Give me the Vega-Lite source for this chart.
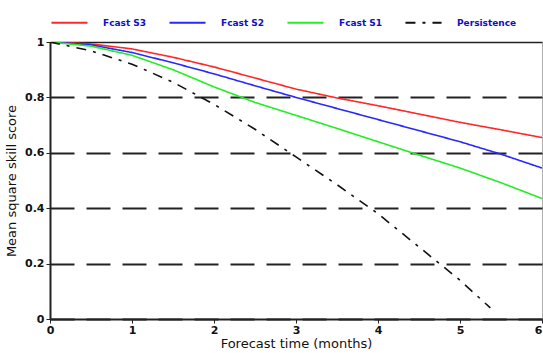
{
  "$schema": "https://vega.github.io/schema/vega-lite/v6.json",
  "width": 492,
  "height": 277,
  "autosize": {"type": "none"},
  "padding": {"left": 50, "top": 42, "right": 1, "bottom": 34},
  "background": "white",
  "config": {
    "view": {"stroke": "#b0b0b0", "strokeWidth": 1},
    "font": "DejaVu Sans"
  },
  "data": {
    "values": [
      {"t": 0, "v": 1, "s": "Fcast S3"},
      {"t": 0.5, "v": 0.993, "s": "Fcast S3"},
      {"t": 1, "v": 0.975, "s": "Fcast S3"},
      {"t": 1.5, "v": 0.945, "s": "Fcast S3"},
      {"t": 2, "v": 0.91, "s": "Fcast S3"},
      {"t": 2.5, "v": 0.87, "s": "Fcast S3"},
      {"t": 3, "v": 0.83, "s": "Fcast S3"},
      {"t": 3.5, "v": 0.798, "s": "Fcast S3"},
      {"t": 4, "v": 0.77, "s": "Fcast S3"},
      {"t": 4.5, "v": 0.74, "s": "Fcast S3"},
      {"t": 5, "v": 0.71, "s": "Fcast S3"},
      {"t": 5.5, "v": 0.683, "s": "Fcast S3"},
      {"t": 6, "v": 0.655, "s": "Fcast S3"},
      {"t": 0, "v": 1, "s": "Fcast S2"},
      {"t": 0.5, "v": 0.99, "s": "Fcast S2"},
      {"t": 1, "v": 0.962, "s": "Fcast S2"},
      {"t": 1.5, "v": 0.925, "s": "Fcast S2"},
      {"t": 2, "v": 0.885, "s": "Fcast S2"},
      {"t": 2.5, "v": 0.842, "s": "Fcast S2"},
      {"t": 3, "v": 0.8, "s": "Fcast S2"},
      {"t": 3.5, "v": 0.76, "s": "Fcast S2"},
      {"t": 4, "v": 0.72, "s": "Fcast S2"},
      {"t": 4.5, "v": 0.68, "s": "Fcast S2"},
      {"t": 5, "v": 0.64, "s": "Fcast S2"},
      {"t": 5.5, "v": 0.595, "s": "Fcast S2"},
      {"t": 6, "v": 0.545, "s": "Fcast S2"},
      {"t": 0, "v": 1, "s": "Fcast S1"},
      {"t": 0.5, "v": 0.985, "s": "Fcast S1"},
      {"t": 1, "v": 0.952, "s": "Fcast S1"},
      {"t": 1.5, "v": 0.9, "s": "Fcast S1"},
      {"t": 2, "v": 0.838, "s": "Fcast S1"},
      {"t": 2.5, "v": 0.782, "s": "Fcast S1"},
      {"t": 3, "v": 0.735, "s": "Fcast S1"},
      {"t": 3.5, "v": 0.688, "s": "Fcast S1"},
      {"t": 4, "v": 0.64, "s": "Fcast S1"},
      {"t": 4.5, "v": 0.592, "s": "Fcast S1"},
      {"t": 5, "v": 0.545, "s": "Fcast S1"},
      {"t": 5.5, "v": 0.492, "s": "Fcast S1"},
      {"t": 6, "v": 0.435, "s": "Fcast S1"},
      {"t": 0, "v": 1, "s": "Persistence"},
      {"t": 0.5, "v": 0.968, "s": "Persistence"},
      {"t": 1, "v": 0.92, "s": "Persistence"},
      {"t": 1.5, "v": 0.855, "s": "Persistence"},
      {"t": 2, "v": 0.775, "s": "Persistence"},
      {"t": 2.5, "v": 0.685, "s": "Persistence"},
      {"t": 3, "v": 0.585, "s": "Persistence"},
      {"t": 3.5, "v": 0.485, "s": "Persistence"},
      {"t": 4, "v": 0.38, "s": "Persistence"},
      {"t": 4.5, "v": 0.26, "s": "Persistence"},
      {"t": 5, "v": 0.14, "s": "Persistence"},
      {"t": 5.37, "v": 0.04, "s": "Persistence"}
    ]
  },
  "mark": {"type": "line", "strokeWidth": 1.6, "clip": true},
  "encoding": {
    "x": {
      "field": "t",
      "type": "quantitative",
      "scale": {"domain": [0, 6], "nice": false, "zero": true},
      "axis": {
        "values": [0, 1, 2, 3, 4, 5, 6],
        "grid": false,
        "title": "Forecast time (months)",
        "titleFont": "DejaVu Sans",
        "titleFontSize": 13,
        "titleFontWeight": "normal",
        "titleColor": "#111",
        "titlePadding": 2,
        "labelFontSize": 11,
        "labelFontWeight": "bold",
        "labelColor": "#111",
        "labelPadding": 1,
        "labelAlign": {"condition": {"test": "datum.value == 6", "value": "right"}, "value": "center"},
        "tickSize": 4,
        "tickColor": "#222",
        "domainColor": "#222",
        "domainWidth": 2,
        "labelFlush": false
      }
    },
    "y": {
      "field": "v",
      "type": "quantitative",
      "scale": {"domain": [0, 1], "nice": false},
      "axis": {
        "values": [0, 0.2, 0.4, 0.6, 0.8, 1],
        "format": "~g",
        "grid": true,
        "gridColor": "#222",
        "gridWidth": {"condition": {"test": "datum.value == 1", "value": 1.5}, "value": 1.8},
        "gridDash": {"condition": {"test": "datum.value == 1", "value": []}, "value": [24, 12]},
        "gridOpacity": 1,
        "title": "Mean square skill score",
        "titleFont": "DejaVu Sans",
        "titleFontSize": 13,
        "titleFontWeight": "normal",
        "titleColor": "#111",
        "titlePadding": 6,
        "labelFontSize": 11,
        "labelFontWeight": "bold",
        "labelColor": "#111",
        "labelPadding": 2,
        "tickSize": 4,
        "tickColor": "#222",
        "domainColor": "#222",
        "domainWidth": 2
      }
    },
    "color": {
      "field": "s",
      "type": "nominal",
      "scale": {
        "domain": ["Fcast S3", "Fcast S2", "Fcast S1", "Persistence"],
        "range": ["#ff2828", "#2828ff", "#22ee22", "#111111"]
      },
      "legend": {
        "orient": "top",
        "direction": "horizontal",
        "title": null,
        "offset": 14,
        "symbolType": "stroke",
        "symbolSize": 1300,
        "symbolStrokeWidth": 2,
        "labelFontSize": 9,
        "labelFontWeight": "bold",
        "labelColor": "#1010c0",
        "labelOffset": 14,
        "columnPadding": 18,
        "padding": 0
      }
    },
    "strokeDash": {
      "field": "s",
      "type": "nominal",
      "scale": {
        "domain": ["Fcast S3", "Fcast S2", "Fcast S1", "Persistence"],
        "range": [[1, 0], [1, 0], [1, 0], [10, 7, 3, 7]]
      },
      "legend": null
    }
  }
}
